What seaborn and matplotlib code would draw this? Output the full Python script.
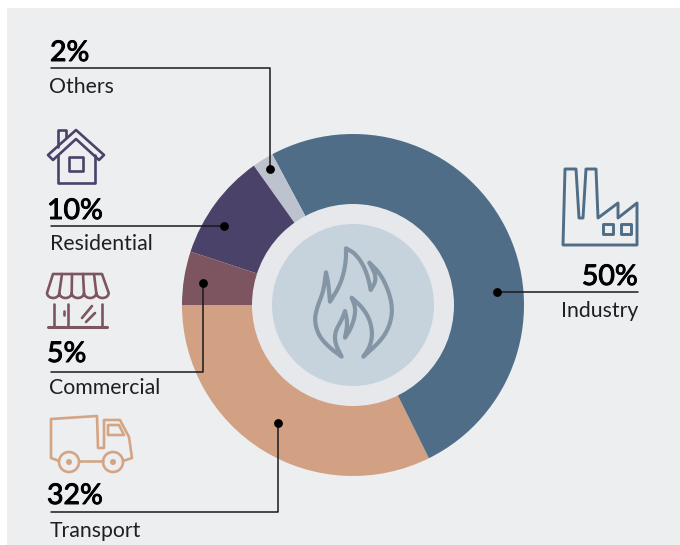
import numpy as np
import seaborn as sns
import matplotlib.pyplot as plt
import matplotlib.patheffects as pe
from matplotlib.patches import Circle, Rectangle, Polygon

# Data, in drawing order starting from the left of the ring
sectors = ["Transport", "Industry", "Others", "Residential", "Commercial"]
shares = [32, 50, 2, 10, 5]
sector_colors = ["#d2a183", "#4f6d87", "#bcc3ce", "#4a4269", "#7d5560"]
share_labels = ["32%", "50%", "2%", "10%", "5%"]

sns.set_theme(style="white")
plt.rcParams["font.family"] = ["Lato", "DejaVu Sans"]

# One axes over the whole figure, in pixels with y pointing down
fig = plt.figure(figsize=(6.8, 5.45), dpi=100, facecolor="white")
ax = fig.add_axes([0, 0, 1, 1])
ax.add_patch(Rectangle((7, 8), 673, 537, color="#edeef0", lw=0, zorder=0))

ax.pie(shares, colors=sector_colors, startangle=180, counterclock=False,
       center=(353, 305), radius=171, frame=True,
       wedgeprops={"linewidth": 0, "zorder": 1})
ax.add_patch(Circle((353, 305), 101, color="#e6e8ec", lw=0, zorder=2))
ax.add_patch(Circle((353, 305), 81, color="#c6d3dd", lw=0, zorder=3))


def stroke(points, color, lw=1.9, closed=False, zorder=4):
    ax.add_patch(Polygon(points, closed=closed, fill=False, edgecolor=color,
                         lw=lw, joinstyle="round", capstyle="round", zorder=zorder))


def smooth(points, rounds=3):
    # corner cutting, keeps the two end points sharp
    pts = np.array(points, dtype=float)
    for _ in range(rounds):
        q = 0.75 * pts[:-1] + 0.25 * pts[1:]
        r = 0.25 * pts[:-1] + 0.75 * pts[1:]
        mid = np.empty((len(q) * 2, 2))
        mid[0::2], mid[1::2] = q, r
        pts = np.vstack([pts[0], mid, pts[-1]])
    return pts


# Flame, traced between its sharp tips
flame_parts = [
    [(245, 620), (205, 590), (175, 555), (163, 510), (172, 470), (190, 425), (198, 367)],
    [(198, 367), (205, 400), (210, 455)],
    [(210, 455), (235, 415), (250, 375), (258, 330), (258, 295)],
    [(258, 295), (285, 310), (310, 345), (325, 385), (332, 420)],
    [(332, 420), (347, 395), (345, 370), (328, 338)],
    [(328, 338), (360, 370), (385, 420), (398, 475), (390, 525), (365, 570), (310, 620)],
    [(310, 620), (330, 590), (338, 550), (328, 505), (305, 470), (275, 443)],
    [(275, 443), (287, 475), (282, 510), (270, 540), (255, 563)],
    [(255, 563), (263, 520), (255, 483)],
    [(255, 483), (245, 510), (225, 545), (225, 580), (245, 620)],
]
flame = np.vstack([smooth(part) for part in flame_parts])
flame = flame / 3 + [260, 150]
stroke(flame, "#8496a5", lw=3, closed=True)

# House
house_color = "#4a4269"
stroke([(58, 155), (58, 183), (95, 183), (95, 155)], house_color)
stroke([(76, 130), (104, 155), (99, 160), (76, 139), (53, 160), (48, 155)], house_color, closed=True)
stroke([(58, 147), (58, 130), (66, 130), (66, 137)], house_color)
stroke([(69, 157), (83, 157), (83, 171), (69, 171)], house_color, closed=True)

# Store
store_color = "#7d5560"
edges = [47, 59.3, 71.7, 84, 96.3, 108.7]
awning = [(47, 293), (53, 274), (102, 274), (108.7, 293)]
for left, right in zip(edges[::-1][:-1], edges[::-1][1:]):
    t = np.linspace(0, np.pi, 12)
    mid, half = (left + right) / 2, (left - right) / 2
    awning += list(zip(mid + half * np.cos(t), 293 + 5 * np.sin(t)))
stroke(awning, store_color, closed=True)
for top, bottom in zip([62, 72, 83, 94], edges[1:5]):
    stroke([(top, 274), (bottom, 293)], store_color)
for post in [54, 68, 102]:
    stroke([(post, 304), (post, 327)], store_color)
stroke([(48, 327), (107, 327)], store_color, lw=2.2)
stroke([(63.5, 311), (63.5, 315)], store_color)
stroke([(82, 318), (92, 306)], store_color)
stroke([(86, 322), (95, 313)], store_color)

# Truck
truck_color = "#d4a585"
stroke([(59, 461), (51, 458), (51, 419), (97, 416), (98, 448), (104, 448), (104, 420),
        (120, 420), (129, 437), (132, 458), (123, 461)], truck_color)
stroke([(79, 461), (103, 461)], truck_color)
stroke([(108, 425), (119, 425), (124, 435), (108, 435)], truck_color, closed=True)
for wheel in [69, 113]:
    ax.add_patch(Circle((wheel, 462), 10, fill=False, edgecolor=truck_color, lw=1.9, zorder=4))
    ax.add_patch(Circle((wheel, 462), 3, color=truck_color, lw=0, zorder=4))

# Factory
factory_color = "#4f6d87"
stroke([(563, 245), (565, 169), (576, 169), (579, 218), (583, 218), (586, 169), (596, 169), (598, 218),
        (618, 203), (618, 218), (637, 203), (637, 245)], factory_color, lw=2.1, closed=True)
stroke([(603, 224), (613, 224), (613, 234), (603, 234)], factory_color, lw=2.1, closed=True)
stroke([(621, 224), (631, 224), (631, 234), (621, 234)], factory_color, lw=2.1, closed=True)

# Leader lines, one per sector, ending on a dot inside the ring
leaders = {
    "Others": [(51, 68), (270, 68), (270, 169)],
    "Residential": [(51, 226), (224, 226)],
    "Commercial": [(51, 372), (203, 372), (203, 283)],
    "Transport": [(51, 512), (278, 512), (278, 423)],
    "Industry": [(638, 292), (497, 292)],
}
for path in leaders.values():
    xs, ys = zip(*path)
    ax.plot(xs, ys, color="#1a1a1a", lw=1.1, zorder=5)

dot_x = [path[-1][0] for path in leaders.values()]
dot_y = [path[-1][1] for path in leaders.values()]
sns.scatterplot(x=dot_x, y=dot_y, color="black", s=40, linewidth=0, zorder=6, ax=ax, legend=False)

# Labels: x, anchor, baseline of share, baseline of name
label_pos = {
    "Others": (50, "left", 61, 93),
    "Residential": (47, "left", 219, 250),
    "Commercial": (47, "left", 362, 394),
    "Transport": (47, "left", 504, 537),
    "Industry": (638, "right", 285, 317),
}
heavier = [pe.withStroke(linewidth=0.7, foreground="black")]
for name, share in zip(sectors, share_labels):
    x, anchor, share_y, name_y = label_pos[name]
    ax.text(x, share_y, share, ha=anchor, va="baseline", fontsize=20.5, color="black",
            path_effects=heavier, zorder=7)
    name_x = 49.5 if anchor == "left" else x
    ax.text(name_x, name_y, name, ha=anchor, va="baseline", fontsize=15.3, color="#1f1f1f", zorder=7)

ax.set_xlim(0, 680)
ax.set_ylim(545, 0)
ax.set_aspect("auto")
ax.axis("off")

plt.savefig("out.png", dpi=100, facecolor="white")
